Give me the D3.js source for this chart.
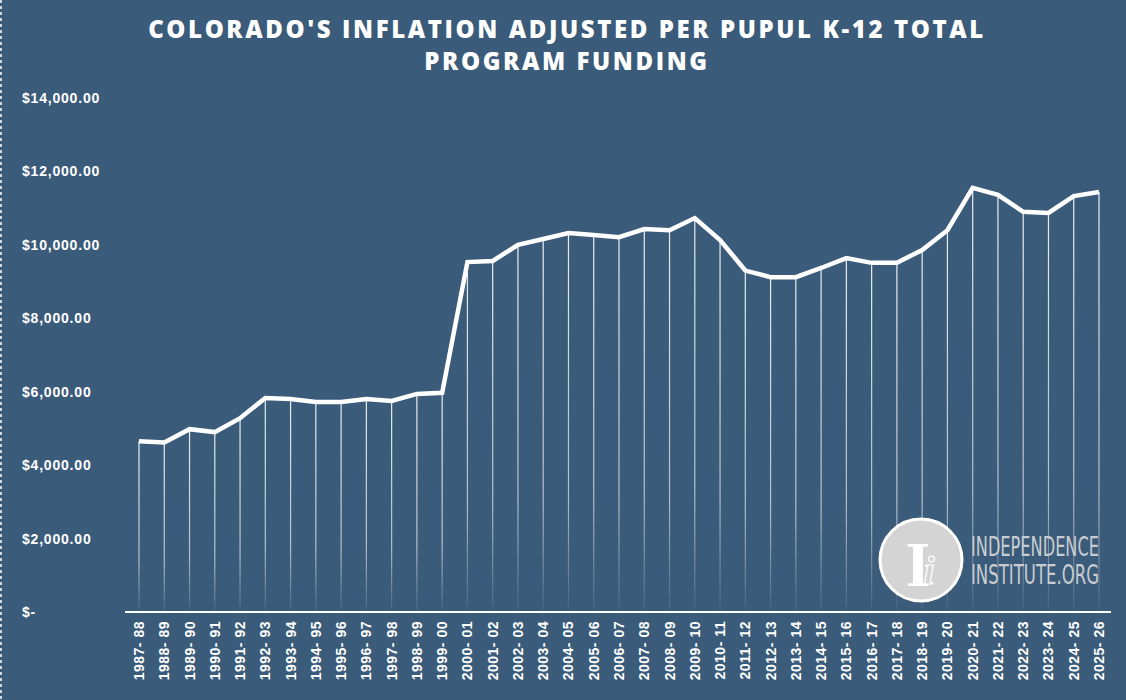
<!DOCTYPE html>
<html><head><meta charset="utf-8">
<script src="https://cdn.jsdelivr.net/npm/d3@7"></script>
<style>
body{margin:0;background:#3b5b7a;}
svg{display:block;}
</style></head><body>
<svg id="chart" width="1126" height="700"></svg>
<script>
const years = ["1987-88","1988-89","1989-90","1990-91","1991-92","1992-93","1993-94","1994-95","1995-96","1996-97","1997-98","1998-99","1999-00","2000-01","2001-02","2002-03","2003-04","2004-05","2005-06","2006-07","2007-08","2008-09","2009-10","2010-11","2011-12","2012-13","2013-14","2014-15","2015-16","2016-17","2017-18","2018-19","2019-20","2020-21","2021-22","2022-23","2023-24","2024-25","2025-26"];
const funding = [4650,4620,4980,4900,5280,5830,5800,5720,5720,5800,5750,5940,5970,9530,9560,10000,10160,10320,10270,10210,10430,10400,10730,10130,9300,9120,9120,9370,9640,9510,9510,9860,10400,11550,11360,10900,10870,11330,11440];
const yTicks = [0,2000,4000,6000,8000,10000,12000,14000];

const svg = d3.select('#chart');
const bg = '#3b5b7a';
svg.append('rect').attr('width',1126).attr('height',700).attr('fill',bg);
// dashed left edge
svg.append('line').attr('x1',1).attr('x2',1).attr('y1',0).attr('y2',700)
  .attr('stroke','#cfd6dd').attr('stroke-width',2).attr('stroke-dasharray','3,3');

// title
const title = svg.append('text').attr('x',567).attr('text-anchor','middle')
  .attr('fill','#fff').style('font-family','"Open Sans", sans-serif')
  .style('font-weight',800).style('font-size','24px').style('letter-spacing','2.6px');
title.append('tspan').attr('x',567).attr('y',38).text("COLORADO'S INFLATION ADJUSTED PER PUPUL K-12 TOTAL");
title.append('tspan').attr('x',567).attr('y',70).text("PROGRAM FUNDING");

const x = d3.scalePoint().domain(years).range([139,1099]);
const y = d3.scaleLinear().domain([0,14000]).range([612,98]);

// y labels
svg.append('g').selectAll('text').data(yTicks).join('text')
  .attr('x',22).attr('y',d=>y(d)+5)
  .attr('fill','#fff').style('font-family','"Liberation Sans", sans-serif')
  .style('font-weight','bold').style('font-size','14px').style('letter-spacing','0.8px')
  .text(d=> d===0 ? '$-' : '$' + d3.format(',.2f')(d));

// gradient for drop lines
const grad = svg.append('defs').append('linearGradient').attr('id','fade')
  .attr('x1',0).attr('x2',0).attr('y1',0).attr('y2',1);
grad.append('stop').attr('offset','0%').attr('stop-color','#fff').attr('stop-opacity',0.9);
grad.append('stop').attr('offset','70%').attr('stop-color','#fff').attr('stop-opacity',0.6);
grad.append('stop').attr('offset','100%').attr('stop-color','#fff').attr('stop-opacity',0.05);

svg.append('g').selectAll('rect').data(years).join('rect')
  .attr('x',d=>x(d)-0.6).attr('width',1.2)
  .attr('y',(d,i)=>y(funding[i])).attr('height',(d,i)=>y(0)-y(funding[i]))
  .attr('fill','url(#fade)');

// logo
const lg = svg.append('g');
lg.append('circle').attr('cx',921).attr('cy',560).attr('r',41).attr('fill','#d4d4d4').attr('stroke','#fff').attr('stroke-width',3);
lg.append('text').attr('x',918).attr('y',586).attr('text-anchor','middle')
  .attr('fill','#fff').style('font-family','"Liberation Serif", serif').style('font-weight','bold')
  .style('font-size','64px').text('I');
lg.append('text').attr('x',929).attr('y',584).attr('text-anchor','middle')
  .attr('fill','#d4d4d4').attr('stroke','#fff').attr('stroke-width',1.2)
  .style('font-family','"Liberation Serif", serif').style('font-style','italic').style('font-weight','bold')
  .style('font-size','40px').text('i');
lg.append('text').attr('x',971).attr('y',556).attr('textLength',128).attr('lengthAdjust','spacingAndGlyphs')
  .attr('fill','#c9cdd1').style('font-family','"DejaVu Sans Condensed", sans-serif')
  .style('font-size','26px').text('INDEPENDENCE');
lg.append('text').attr('x',971).attr('y',584).attr('textLength',128).attr('lengthAdjust','spacingAndGlyphs')
  .attr('fill','#c9cdd1').style('font-family','"DejaVu Sans Condensed", sans-serif')
  .style('font-weight',300).style('font-size','26px').text('INSTITUTE.ORG');

// line
svg.append('path').datum(years)
  .attr('fill','none').attr('stroke','#fff').attr('stroke-width',4.5).attr('stroke-linejoin','miter')
  .attr('d',d3.line().x(d=>x(d)).y((d,i)=>y(funding[i])));

// baseline
svg.append('line').attr('x1',125).attr('x2',1111).attr('y1',612).attr('y2',612)
  .attr('stroke','#fff').attr('stroke-width',2);

// x labels
svg.append('g').selectAll('text').data(years).join('text')
  .attr('transform',d=>`translate(${x(d)+5},621) rotate(-90)`)
  .attr('text-anchor','end').attr('fill','#fff')
  .style('font-family','"Liberation Sans", sans-serif').style('font-weight','bold')
  .style('font-size','14px').style('letter-spacing','0.5px')
  .text(d=>d.replace('-','- '));
</script>
</body></html>
